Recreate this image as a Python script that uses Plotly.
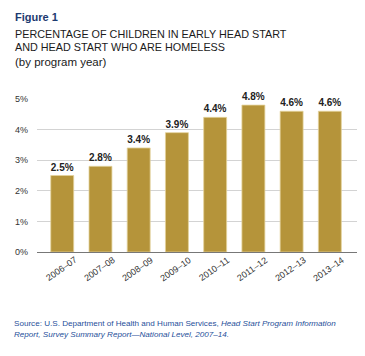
import plotly.graph_objects as go

years = ["2006–07", "2007–08", "2008–09", "2009–10", "2010–11", "2011–12", "2012–13", "2013–14"]
values = [2.5, 2.8, 3.4, 3.9, 4.4, 4.8, 4.6, 4.6]
y_ticks = [0, 1, 2, 3, 4, 5]
y_tick_labels = ["0%", "1%", "2%", "3%", "4%", "5%"]

BAR = "#b5943a"
OFF = 8  # page body margin
W, H = 365 - OFF, 356 - OFF
L, R, T, B = 37 - OFF, 8, 99 - OFF, 104
PW = W - L - R
PH = H - T - B
NARROW = "Liberation Sans Narrow, Arial Narrow, sans-serif"

def px(x):
    return (x - OFF - L) / PW

def py(y):
    return (H - B - (y - OFF)) / PH

fig = go.Figure(go.Bar(
    x=list(range(len(years))), y=values,
    marker=dict(color=BAR, line=dict(color="#e3d29a", width=0.8)),
    width=0.6,
    text=[f"{v:.1f}%" for v in values],
    textposition="outside",
    textfont=dict(family=NARROW, size=10, color="#222"),
    texttemplate="<b>%{text}</b>",
    cliponaxis=False,
    hoverinfo="skip",
))

fig.update_layout(
    width=W, height=H,
    margin=dict(l=L, r=R, t=T, b=B),
    paper_bgcolor="white", plot_bgcolor="white",
    showlegend=False,
    font=dict(family="Liberation Sans, Arial, sans-serif", color="#222"),
)
fig.update_xaxes(
    range=[-0.66, 7.71],
    tickmode="array", tickvals=list(range(len(years))), ticktext=[""] * len(years),
    showline=True, linecolor="#777", linewidth=1.2,
    showgrid=False, ticks="", zeroline=False,
)
fig.update_yaxes(
    range=[0, 5],
    tickmode="array", tickvals=y_ticks, ticktext=y_tick_labels,
    tickfont=dict(size=9, family=NARROW, color="#333"),
    showgrid=True, gridcolor="#d3d3d3", gridwidth=1,
    zeroline=False, showline=False, ticks="", ticklabelstandoff=8,
)

# centred, rotated category labels
for i, yr in enumerate(years):
    fig.add_annotation(
        text=yr, x=i, y=0, xref="x", yref="y",
        xanchor="center", yanchor="middle", yshift=-17, xshift=-1,
        textangle=-35, showarrow=False,
        font=dict(size=9, family=NARROW, color="#333"),
    )

ann = [
    dict(text="<b>Figure 1</b>", x=px(13), y=py(17), size=11, color="#1d3a70"),
    dict(text="PERCENTAGE OF CHILDREN IN EARLY HEAD START", x=px(13), y=py(34), size=10.8, color="#1a1a1a"),
    dict(text="AND HEAD START WHO ARE HOMELESS", x=px(13), y=py(47), size=10.8, color="#1a1a1a"),
    dict(text="(by program year)", x=px(13), y=py(62), size=11.5, color="#1a1a1a"),
    dict(text="Source: U.S. Department of Health and Human Services, <i>Head Start Program Information</i>",
         x=px(12), y=py(323), size=8.1, color="#1f4f9a"),
    dict(text="<i>Report, Survey Summary Report—National Level, 2007–14.</i>",
         x=px(12), y=py(334), size=8.1, color="#1f4f9a"),
]
for a in ann:
    fig.add_annotation(
        text=a["text"], x=a["x"], y=a["y"], xref="paper", yref="paper",
        xanchor="left", yanchor="middle", showarrow=False,
        font=dict(size=a["size"], color=a["color"], family="Liberation Sans, Arial, sans-serif"),
    )

fig.write_html("out.html")
